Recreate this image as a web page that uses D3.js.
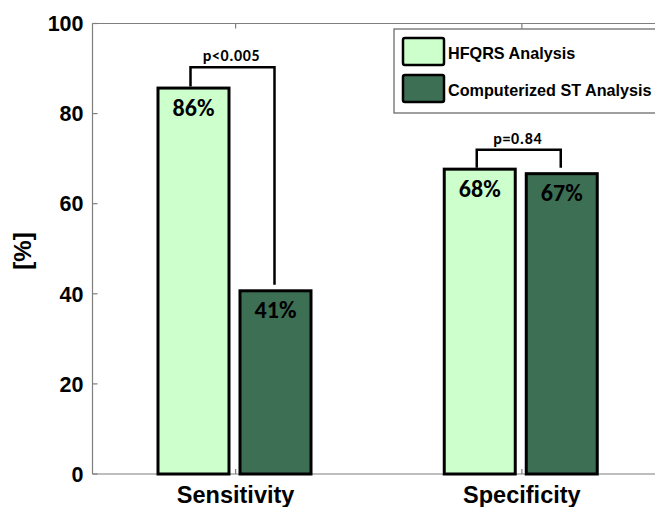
<!DOCTYPE html>
<html>
<head>
<meta charset="utf-8">
<script src="https://cdn.jsdelivr.net/npm/d3@7"></script>
<style>
  html, body { margin:0; padding:0; background:#fff; }
  svg { display:block; }
</style>
</head>
<body>
<div id="chart"></div>
<script>
// ---- data ------------------------------------------------------
const categories = ["Sensitivity", "Specificity"];
const series     = ["HFQRS Analysis", "Computerized ST Analysis"];
const hfqrs      = [86, 68];
const compST     = [41, 67];
const valueLabels = [["86%", "41%"], ["68%", "67%"]];
const pLabels    = ["p<0.005", "p=0.84"];
const bracketAt  = [90.3, 72];     // bracket bar level (in %)
const yTicks     = [0, 20, 40, 60, 80, 100];

const colours = ["#ccffcc", "#3d6f54"];
const W = 655, H = 507;
const ARIAL = "'Liberation Sans', Arial, sans-serif";
const CALIBRI = "Carlito, Lato, 'Open Sans', sans-serif";

const rows = categories.map((c, i) => ({
  cat: c,
  vals: [hfqrs[i], compST[i]],
  labels: valueLabels[i],
  p: pLabels[i],
  br: bracketAt[i]
}));

// ---- scales ----------------------------------------------------
// plot box: x 0.5..2.5 (right edge falls outside the picture)
const x0 = d3.scaleBand().domain(categories).range([92.5, 665]).padding(0);
const x1 = d3.scaleBand().domain(series).range([64, 220]).paddingInner(0.0976);
const y  = d3.scaleLinear().domain([0, 100]).range([474, 23.5]);

const svg = d3.select("#chart").append("svg")
  .attr("width", W).attr("height", H)
  .attr("viewBox", `0 0 ${W} ${H}`);

// ---- axes box --------------------------------------------------
const axisCol = "#7f7f7f";
const [xl, xr] = x0.range();
svg.append("g").attr("fill", "none").attr("stroke", axisCol).attr("stroke-width", 1.2)
  .selectAll("line").data([
    [xl, y(0), xr, y(0)], [xl, y(100), xr, y(100)], [xl, y(0), xl, y(100)]
  ]).join("line")
  .attr("x1", d => d[0]).attr("y1", d => d[1])
  .attr("x2", d => d[2]).attr("y2", d => d[3]);

// y ticks (inward) + labels
const yAxis = svg.append("g");
yAxis.selectAll("line").data(yTicks).join("line")
  .attr("x1", xl).attr("x2", xl + 5)
  .attr("y1", d => y(d)).attr("y2", d => y(d))
  .attr("stroke", axisCol).attr("stroke-width", 1.2);
yAxis.selectAll("text").data(yTicks).join("text")
  .attr("x", xl - 9).attr("y", d => y(d))
  .attr("dy", "0.36em")
  .attr("text-anchor", "end")
  .attr("font-family", ARIAL).attr("font-weight", "bold")
  .attr("font-size", 21.5).attr("fill", "#000")
  .text(d => d);

// x ticks on bottom and top (inward)
const xc = c => x0(c) + x0.bandwidth() / 2;
svg.append("g").selectAll("line")
  .data(categories.flatMap(c => [[c, 0, -5], [c, 100, 5]]))
  .join("line")
  .attr("x1", d => xc(d[0])).attr("x2", d => xc(d[0]))
  .attr("y1", d => y(d[1])).attr("y2", d => y(d[1]) + d[2])
  .attr("stroke", axisCol).attr("stroke-width", 1.2);

// x category labels
svg.append("g").selectAll("text").data(categories).join("text")
  .attr("x", d => xc(d)).attr("y", 503)
  .attr("text-anchor", "middle")
  .attr("font-family", ARIAL).attr("font-weight", "bold")
  .attr("font-size", 23.5).attr("fill", "#000")
  .text(d => d);

// y axis title
svg.append("text")
  .attr("transform", `translate(31,251) rotate(-90)`)
  .attr("text-anchor", "middle")
  .attr("font-family", ARIAL).attr("font-weight", "bold")
  .attr("font-size", 24).attr("fill", "#000")
  .text("[%]");

// ---- bars ------------------------------------------------------
const groups = svg.append("g").selectAll("g").data(rows).join("g")
  .attr("transform", d => `translate(${x0(d.cat)},0)`);

groups.selectAll("rect").data(d => d.vals.map((v, i) => ({ s: series[i], v, i })))
  .join("rect")
  .attr("x", d => x1(d.s) + 1.5)
  .attr("width", x1.bandwidth() - 3)
  .attr("y", d => y(d.v) + 1.5)
  .attr("height", d => y(0) - y(d.v) - 1.5)
  .attr("fill", d => colours[d.i])
  .attr("stroke", "#000").attr("stroke-width", 3);

// value labels inside bars
groups.selectAll("text.val").data(d => d.vals.map((v, i) => ({ s: series[i], v, lab: d.labels[i] })))
  .join("text").attr("class", "val")
  .attr("x", d => x1(d.s) + x1.bandwidth() / 2)
  .attr("y", d => y(d.v) + 29)
  .attr("text-anchor", "middle")
  .attr("font-family", CALIBRI).attr("font-weight", "bold")
  .attr("font-size", 24).attr("fill", "#000")
  .text(d => d.lab);

// significance brackets
groups.append("path")
  .attr("fill", "none").attr("stroke", "#000").attr("stroke-width", 2.5)
  .attr("d", d => {
    const a = x1(series[0]) + x1.bandwidth() / 2 - 3;
    const b = x1(series[1]) + x1.bandwidth() / 2 - 1;
    return `M${a},${y(d.vals[0])}V${y(d.br)}H${b}V${y(d.vals[1] + 1)}`;
  });
groups.append("text")
  .attr("x", d => (x1(series[0]) + x1(series[1]) + x1.bandwidth()) / 2 - 3)
  .attr("y", d => y(d.br) - 6)
  .attr("text-anchor", "middle")
  .attr("font-family", CALIBRI).attr("font-weight", "bold")
  .attr("font-size", 16).attr("fill", "#000")
  .attr("letter-spacing", 0.6)
  .text(d => d.p);

// ---- legend ----------------------------------------------------
const lg = svg.append("g").attr("transform", "translate(394,29)");
lg.append("rect")
  .attr("x", 0).attr("y", 0).attr("width", 270).attr("height", 84)
  .attr("fill", "#fff").attr("stroke", "#606060").attr("stroke-width", 1.2);
const item = lg.selectAll("g").data(series).join("g")
  .attr("transform", (d, i) => `translate(0,${9 + i * 37})`);
item.append("rect")
  .attr("x", 9).attr("y", 0).attr("width", 41).attr("height", 27)
  .attr("rx", 2)
  .attr("fill", (d, i) => colours[i])
  .attr("stroke", "#000").attr("stroke-width", 2.5);
item.append("text")
  .attr("x", 54).attr("y", 21)
  .attr("font-family", ARIAL).attr("font-weight", "bold")
  .attr("font-size", 16.2).attr("fill", "#000")
  .text(d => d);
</script>
</body>
</html>
